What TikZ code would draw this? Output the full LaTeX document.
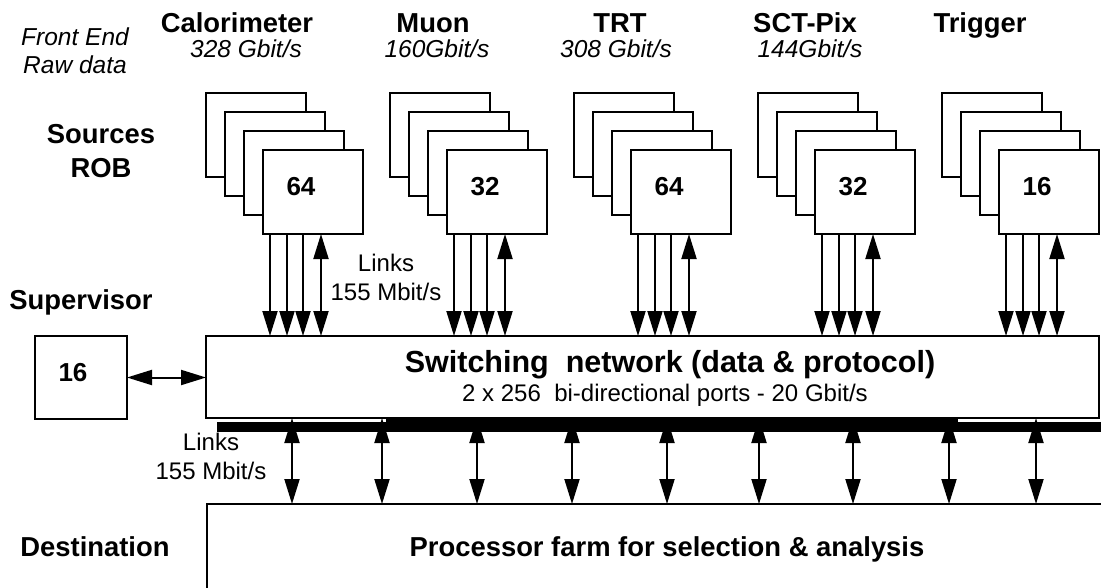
\documentclass[tikz,border=0pt]{standalone}
\usepackage{fontspec}
\setmainfont{Liberation Sans}
\usetikzlibrary{arrows.meta}

\begin{document}
\begin{tikzpicture}[x=1pt,y=-1pt,line width=2pt,
  box/.style={draw,fill=white,rectangle,inner sep=0pt,outer sep=0pt,anchor=north west},
  rob/.style={box,minimum width=100,minimum height=84},
  head/.style={font=\fontsize{27.4}{33}\selectfont\bfseries,anchor=base},
  rate/.style={font=\fontsize{24.5}{28}\selectfont\itshape,anchor=base,align=center},
  lbl/.style={font=\fontsize{24}{29}\selectfont,anchor=base,align=center},
  num/.style={font=\fontsize{26}{30}\selectfont\bfseries,anchor=base},
  tip/.style={-{Triangle[length=25pt,width=15pt]}},
  tips/.style={{Triangle[length=25pt,width=15pt]}-{Triangle[length=25pt,width=15pt]}}]
  \useasboundingbox (0,0) rectangle (1101,587);
  \clip (0,0) rectangle (1101,587);

  \node[rate] (fe) at (75,73) {Front End\\Raw data};
  \node[head,align=center,font=\fontsize{27.4}{34}\selectfont\bfseries] (src) at (101,177) {Sources\\ROB};
  \node[head] (supl) at (81,309) {Supervisor};
  \node[head] (dest) at (95,556) {Destination};

  \foreach \n/\x/\t in {cal/237/Calorimeter,muon/433/Muon,trt/620/TRT,sct/805/SCT-Pix,trig/980/Trigger}
    \node[head] (\n h) at (\x,32.5) {\t};
  \foreach \n/\x/\t in {cal/246/{328 Gbit/s},muon/437/{160Gbit/s},trt/616/{308 Gbit/s},sct/810/{144Gbit/s}}
    \node[rate] (\n r) at (\x,57.5) {\t};

  \node[box,minimum width=893,minimum height=82] (sw) at (206,336) {};
  \node[head,font=\fontsize{30.5}{34}\selectfont\bfseries] (swt) at (670,372) {Switching\ \ network (data \& protocol)};
  \node[lbl] (sws) at (665,401) {2 x 256\ \ bi-directional ports - 20 Gbit/s};

  \node[box,minimum width=92,minimum height=83] (sup) at (35,336) {};
  \node[num] (supn) at ([shift={(38,45.5)}]sup.north west) {16};
  \draw[tips] (sup.east) -- (sup.east -| sw.west);

  \foreach \n/\x/\v in {cal/206/64,muon/390/32,trt/574/64,sct/758/32,trig/942/16}{
    \foreach \k in {0,1,2}
      \node[rob] at (\x+19*\k,93+19*\k) {};
    \node[rob] (\n) at (\x+57,150) {};
    \node[num] (\n n) at ([shift={(38,45.5)}]\n.north west) {\v};
    \foreach \d in {7,24,40}{
      \coordinate (\n\d) at ([xshift=\d]\n.south west);
      \draw[tip] (\n\d) -- (\n\d |- sw.north);
    }
    \coordinate (\n58) at ([xshift=58]\n.south west);
    \draw[tips] (\n58) -- (\n58 |- sw.north);
  }
  \node[lbl] (lk1) at (386,300) {Links\\155 Mbit/s};

  \node[box,minimum width=950,minimum height=120] (farm) at (207,504) {};
  \node[head] (farmt) at (667,556) {Processor farm for selection \& analysis};

  \foreach \x in {292,382,477,572,667,759,853,949,1036}
    \draw[tips] (\x,0 |- sw.south) -- (\x,0 |- farm.north);
  \fill (217,421.5) rectangle (1101,432);
  \fill (386,417) rectangle (958,432);
  \node[lbl] (lk2) at (211,479) {Links\\155 Mbit/s};
\end{tikzpicture}
\end{document}
